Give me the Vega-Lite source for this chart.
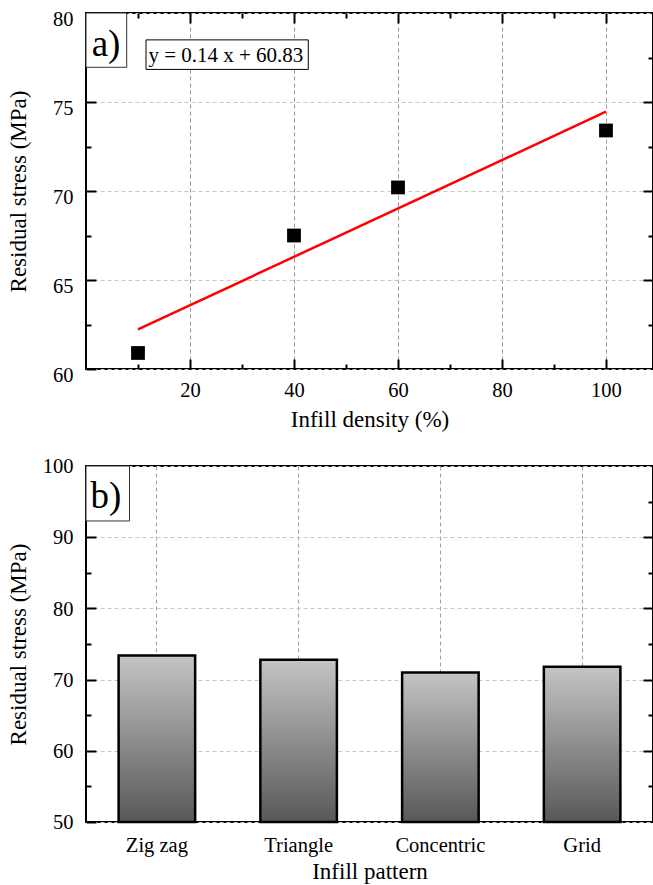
{
  "$schema": "https://vega.github.io/schema/vega-lite/v6.json",
  "background": "white",
  "padding": {"left": 6, "top": 8, "right": 0, "bottom": 0},
  "datasets": {
    "pts": [
      {"density": 10, "stress": 60.9},
      {"density": 40, "stress": 67.5},
      {"density": 60, "stress": 70.2},
      {"density": 100, "stress": 73.4}
    ],
    "bars": [
      {"pattern": "Zig zag", "stress": 73.4},
      {"pattern": "Triangle", "stress": 72.8},
      {"pattern": "Concentric", "stress": 71.0},
      {"pattern": "Grid", "stress": 71.8}
    ],
    "annA": [{"label": "a)", "x": 0, "x2": 7.83, "y": 76.95, "y2": 80, "tx": 3.85, "ty": 77.61}],
    "eq": [{"label": "y = 0.14 x + 60.83", "x": 11.54, "x2": 42.75, "y": 76.83, "y2": 78.49, "tx": 26.9, "ty": 77.24}],
    "annB": [{"label": "b)", "x": 0, "x2": 0.0767, "y": 92.28, "y2": 100, "tx": 0.0349, "ty": 94.06}]
  },
  "spacing": 23,
  "vconcat": [
    {
      "width": 567,
      "height": 356,
      "resolve": {"axis": {"x": "independent", "y": "independent"}},
      "layer": [
        {
          "data": {"name": "pts"},
          "mark": {"type": "square", "size": 190, "color": "black", "opacity": 1},
          "encoding": {
            "x": {"field": "density", "type": "quantitative", "scale": {"domain": [0, 109.04], "nice": false, "zero": false},
              "axis": {"orient": "bottom", "values": [20, 40, 60, 80, 100], "title": "Infill density (%)", "grid": true, "gridColor": "#9a9a9a", "tickSize": -10, "labelPadding": 37, "labelBaseline": "alphabetic", "labelFlush": false, "titleBaseline": "alphabetic", "titleY": 57, "labelFont": "Liberation Serif", "titleFont": "Liberation Serif", "labelFontSize": 20.5, "titleFontSize": 23}},
            "y": {"field": "stress", "type": "quantitative", "scale": {"domain": [60, 80], "nice": false, "zero": false},
              "axis": {"orient": "left", "values": [60, 65, 70, 75, 80], "title": "Residual stress (MPa)", "grid": true, "gridColor": "#c8c8c8", "tickSize": -10, "labelPadding": 23, "labelBaseline": "alphabetic", "labelOffset": 12.5, "titleX": -56, "titleY": 178, "titleAngle": 270, "titleBaseline": "bottom", "titleAlign": "center", "labelFont": "Liberation Serif", "titleFont": "Liberation Serif", "labelFontSize": 20.5, "titleFontSize": 23}}
          }
        },
        {
          "data": {"name": "pts"},
          "transform": [{"regression": "stress", "on": "density"}],
          "mark": {"type": "line", "color": "#ff0000", "strokeWidth": 2.5},
          "encoding": {
            "x": {"field": "density", "type": "quantitative", "scale": {"domain": [0, 109.04], "nice": false, "zero": false},
              "axis": {"orient": "top", "values": [20, 40, 60, 80, 100], "tickSize": -10, "labels": false, "title": null, "grid": false}},
            "y": {"field": "stress", "type": "quantitative", "scale": {"domain": [60, 80], "nice": false, "zero": false},
              "axis": {"orient": "right", "values": [65, 70, 75], "tickSize": -10, "labels": false, "title": null, "grid": false}}
          }
        },
        {
          "data": {"name": "pts"},
          "mark": {"type": "point", "opacity": 0},
          "encoding": {
            "x": {"field": "density", "type": "quantitative", "scale": {"domain": [0, 109.04], "nice": false, "zero": false},
              "axis": {"orient": "bottom", "values": [10, 30, 50, 70, 90], "tickSize": -5, "labels": false, "title": null, "grid": false}},
            "y": {"field": "stress", "type": "quantitative", "scale": {"domain": [60, 80], "nice": false, "zero": false},
              "axis": {"orient": "left", "values": [62.5, 67.5, 72.5, 77.5], "tickSize": -5, "labels": false, "title": null, "grid": false}}
          }
        },
        {
          "data": {"name": "pts"},
          "mark": {"type": "point", "opacity": 0},
          "encoding": {
            "x": {"field": "density", "type": "quantitative", "scale": {"domain": [0, 109.04], "nice": false, "zero": false},
              "axis": {"orient": "top", "values": [10, 30, 50, 70, 90], "tickSize": -5, "labels": false, "title": null, "grid": false}},
            "y": {"field": "stress", "type": "quantitative", "scale": {"domain": [60, 80], "nice": false, "zero": false},
              "axis": {"orient": "right", "values": [62.5, 67.5, 72.5, 77.5], "tickSize": -5, "labels": false, "title": null, "grid": false}}
          }
        },
        {
          "data": {"name": "annA"},
          "mark": {"type": "rect", "fill": "white", "stroke": "#333333", "strokeWidth": 1},
          "encoding": {
            "x": {"field": "x", "type": "quantitative", "scale": {"domain": [0, 109.04], "nice": false, "zero": false}, "axis": null},
            "x2": {"field": "x2"},
            "y": {"field": "y", "type": "quantitative", "scale": {"domain": [60, 80], "nice": false, "zero": false}, "axis": null},
            "y2": {"field": "y2"}
          }
        },
        {
          "data": {"name": "annA"},
          "mark": {"type": "text", "font": "Liberation Serif", "fontSize": 37, "align": "center", "baseline": "alphabetic", "color": "black"},
          "encoding": {
            "x": {"field": "tx", "type": "quantitative", "scale": {"domain": [0, 109.04], "nice": false, "zero": false}, "axis": null},
            "y": {"field": "ty", "type": "quantitative", "scale": {"domain": [60, 80], "nice": false, "zero": false}, "axis": null},
            "text": {"field": "label"}
          }
        },
        {
          "data": {"name": "eq"},
          "mark": {"type": "rect", "fill": "white", "stroke": "black", "strokeWidth": 1},
          "encoding": {
            "x": {"field": "x", "type": "quantitative", "scale": {"domain": [0, 109.04], "nice": false, "zero": false}, "axis": null},
            "x2": {"field": "x2"},
            "y": {"field": "y", "type": "quantitative", "scale": {"domain": [60, 80], "nice": false, "zero": false}, "axis": null},
            "y2": {"field": "y2"}
          }
        },
        {
          "data": {"name": "eq"},
          "mark": {"type": "text", "font": "Liberation Serif", "fontSize": 21, "align": "center", "baseline": "alphabetic", "color": "black"},
          "encoding": {
            "x": {"field": "tx", "type": "quantitative", "scale": {"domain": [0, 109.04], "nice": false, "zero": false}, "axis": null},
            "y": {"field": "ty", "type": "quantitative", "scale": {"domain": [60, 80], "nice": false, "zero": false}, "axis": null},
            "text": {"field": "label"}
          }
        }
      ]
    },
    {
      "width": 567,
      "height": 356,
      "resolve": {"axis": {"x": "independent", "y": "independent"}, "scale": {"x": "independent"}},
      "layer": [
        {
          "data": {"name": "bars"},
          "mark": {"type": "bar", "stroke": "black", "strokeWidth": 2.5,
            "fill": {"gradient": "linear", "x1": 0, "y1": 0, "x2": 0, "y2": 1,
              "stops": [{"offset": 0, "color": "#c4c4c4"}, {"offset": 1, "color": "#585858"}]}},
          "encoding": {
            "x": {"field": "pattern", "type": "nominal", "sort": null, "scale": {"paddingInner": 0.46, "paddingOuter": 0.23},
              "axis": {"orient": "bottom", "title": "Infill pattern", "ticks": false, "tickSize": 0, "labelAngle": 0, "labelPadding": 29, "labelBaseline": "alphabetic", "grid": true, "gridColor": "#a0a0a0", "bandPosition": 0.5, "titleY": 56, "titleBaseline": "alphabetic", "labelFont": "Liberation Serif", "titleFont": "Liberation Serif", "labelFontSize": 20.5, "titleFontSize": 23}},
            "y": {"field": "stress", "type": "quantitative", "scale": {"domain": [50, 100], "nice": false, "zero": false},
              "axis": {"orient": "left", "values": [50, 60, 70, 80, 90, 100], "title": "Residual stress (MPa)", "grid": true, "gridColor": "#c8c8c8", "tickSize": -10, "labelPadding": 23, "labelBaseline": "alphabetic", "labelOffset": 6.7, "titleX": -56, "titleY": 178, "titleAngle": 270, "titleBaseline": "bottom", "titleAlign": "center", "labelFont": "Liberation Serif", "titleFont": "Liberation Serif", "labelFontSize": 20.5, "titleFontSize": 23}},
            "y2": {"datum": 50}
          }
        },
        {
          "data": {"name": "bars"},
          "mark": {"type": "point", "opacity": 0},
          "encoding": {
            "y": {"field": "stress", "type": "quantitative", "scale": {"domain": [50, 100], "nice": false, "zero": false},
              "axis": {"orient": "right", "values": [60, 70, 80, 90], "tickSize": -10, "labels": false, "title": null, "grid": false}}
          }
        },
        {
          "data": {"name": "bars"},
          "mark": {"type": "point", "opacity": 0},
          "encoding": {
            "y": {"field": "stress", "type": "quantitative", "scale": {"domain": [50, 100], "nice": false, "zero": false},
              "axis": {"orient": "left", "values": [55, 65, 75, 85, 95], "tickSize": -5, "labels": false, "title": null, "grid": false}}
          }
        },
        {
          "data": {"name": "bars"},
          "mark": {"type": "point", "opacity": 0},
          "encoding": {
            "y": {"field": "stress", "type": "quantitative", "scale": {"domain": [50, 100], "nice": false, "zero": false},
              "axis": {"orient": "right", "values": [55, 65, 75, 85, 95], "tickSize": -5, "labels": false, "title": null, "grid": false}}
          }
        },
        {
          "data": {"name": "annB"},
          "mark": {"type": "rect", "fill": "white", "stroke": "#333333", "strokeWidth": 1},
          "encoding": {
            "x": {"field": "x", "type": "quantitative", "scale": {"domain": [0, 1], "nice": false, "zero": false}, "axis": null},
            "x2": {"field": "x2"},
            "y": {"field": "y", "type": "quantitative", "scale": {"domain": [50, 100], "nice": false, "zero": false}, "axis": null},
            "y2": {"field": "y2"}
          }
        },
        {
          "data": {"name": "annB"},
          "mark": {"type": "text", "font": "Liberation Serif", "fontSize": 37, "align": "center", "baseline": "alphabetic", "color": "black"},
          "encoding": {
            "x": {"field": "tx", "type": "quantitative", "scale": {"domain": [0, 1], "nice": false, "zero": false}, "axis": null},
            "y": {"field": "ty", "type": "quantitative", "scale": {"domain": [50, 100], "nice": false, "zero": false}, "axis": null},
            "text": {"field": "label"}
          }
        }
      ]
    }
  ],
  "config": {
    "font": "Liberation Serif",
    "view": {"stroke": "black", "strokeWidth": 2},
    "axis": {
      "labelFont": "Liberation Serif", "labelFontSize": 20.5, "labelColor": "black",
      "titleFont": "Liberation Serif", "titleFontSize": 23, "titleFontWeight": "normal", "titleColor": "black",
      "tickColor": "black", "tickWidth": 2, "domain": false,
      "gridDash": [4, 3], "gridWidth": 1, "labelOverlap": false
    }
  }
}
